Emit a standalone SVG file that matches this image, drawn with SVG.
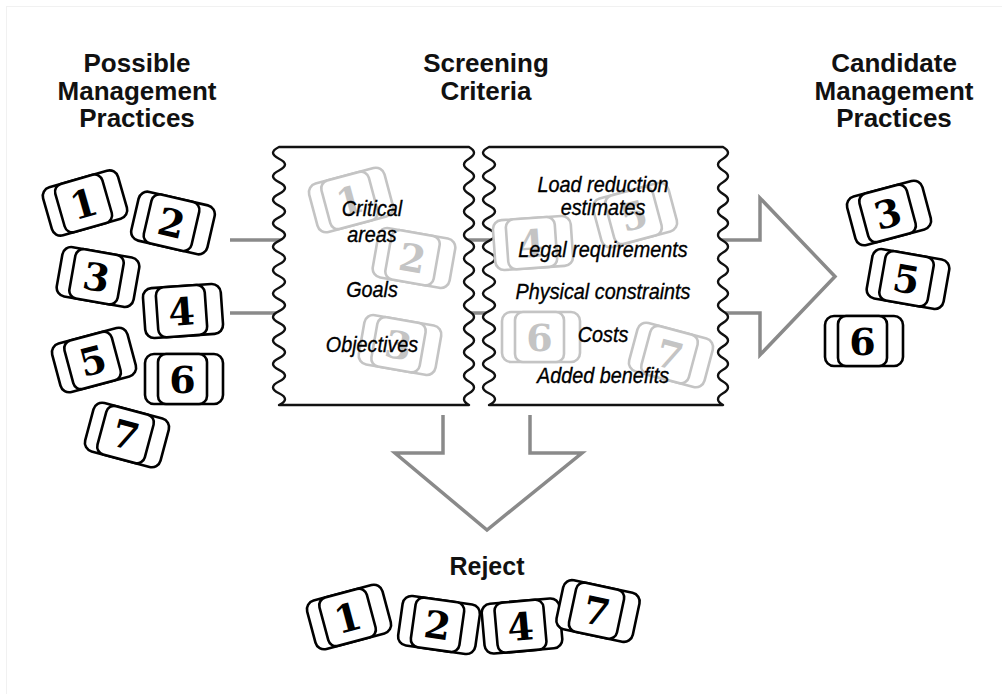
<svg xmlns="http://www.w3.org/2000/svg" width="1002" height="694" viewBox="0 0 1002 694">
<style>
.h{font-family:"Liberation Sans",Arial,sans-serif;font-weight:bold;font-size:26px;text-anchor:middle;fill:#111}
.it{font-family:"Liberation Sans",Arial,sans-serif;font-style:italic;font-size:22.5px;text-anchor:middle;fill:#000;stroke:#000;stroke-width:0.35}
.arr{fill:none;stroke:#8a8a8a;stroke-width:3.5;stroke-linejoin:miter}
.box{fill:#fff;stroke:#111;stroke-width:2.4;stroke-linejoin:round}
.cd use{fill:#fff;stroke:#000;stroke-width:2.6}
.cd text{font-family:"DejaVu Serif","Liberation Serif",serif;font-weight:bold;font-size:38px;text-anchor:middle;fill:#000}
.gh use{fill:#fff;stroke:#c4c4c4;stroke-width:2.6}
.gh text{font-family:"DejaVu Serif","Liberation Serif",serif;font-weight:bold;font-size:38px;text-anchor:middle;fill:#c4c4c4}
</style>
<defs>
<g id="card">
<rect x="-39" y="-25" width="78" height="50" rx="9"/>
<rect x="-26" y="-25" width="49" height="50" rx="8"/>
</g>
</defs>
<rect x="6.5" y="6.5" width="1200" height="1000" fill="none" stroke="#f1f1f1" stroke-width="1"/>

<g id="headings">
<text class="h" x="137" y="72">Possible</text>
<text class="h" x="137" y="100">Management</text>
<text class="h" x="137" y="127">Practices</text>
<text class="h" x="486" y="72">Screening</text>
<text class="h" x="486" y="100">Criteria</text>
<text class="h" x="894" y="72">Candidate</text>
<text class="h" x="894" y="100">Management</text>
<text class="h" x="894" y="127">Practices</text>
<text class="h" x="487" y="575" style="font-size:25px">Reject</text>
</g>

<g id="connectors">
<path class="arr" d="M230 240 H760 V198 L835 276.5 L760 355 V313 H230"/>
<path class="arr" d="M443 415 V453 H395 L487 530 L582 453 H530 V415"/>
</g>

<g id="criteria-box-1">
<path class="box" d="M279 147 H469 q 10 5.864 0 11.727 t 0 11.727 t 0 11.727 t 0 11.727 t 0 11.727 t 0 11.727 t 0 11.727 t 0 11.727 t 0 11.727 t 0 11.727 t 0 11.727 t 0 11.727 t 0 11.727 t 0 11.727 t 0 11.727 t 0 11.727 t 0 11.727 t 0 11.727 t 0 11.727 t 0 11.727 t 0 11.727 t 0 11.727 H279 q 12 -5.864 0 -11.727 t 0 -11.727 t 0 -11.727 t 0 -11.727 t 0 -11.727 t 0 -11.727 t 0 -11.727 t 0 -11.727 t 0 -11.727 t 0 -11.727 t 0 -11.727 t 0 -11.727 t 0 -11.727 t 0 -11.727 t 0 -11.727 t 0 -11.727 t 0 -11.727 t 0 -11.727 t 0 -11.727 t 0 -11.727 t 0 -11.727 t 0 -11.727 Z"/>
<g class="gh" transform="translate(351 200) rotate(-15)"><use href="#card"/><text x="-1.5" y="14">1</text></g>
<g class="gh" transform="translate(414 258) rotate(10)"><use href="#card"/><text x="-1.5" y="14">2</text></g>
<g class="gh" transform="translate(400 345) rotate(10)"><use href="#card"/><text x="-1.5" y="14">3</text></g>
<text class="it" transform="translate(372 216) scale(0.88 1)">Critical</text>
<text class="it" transform="translate(372 242) scale(0.88 1)">areas</text>
<text class="it" transform="translate(372 297) scale(0.88 1)">Goals</text>
<text class="it" transform="translate(372 352) scale(0.88 1)">Objectives</text>
</g>

<g id="criteria-box-2">
<path class="box" d="M489 147 H723 q 10 5.864 0 11.727 t 0 11.727 t 0 11.727 t 0 11.727 t 0 11.727 t 0 11.727 t 0 11.727 t 0 11.727 t 0 11.727 t 0 11.727 t 0 11.727 t 0 11.727 t 0 11.727 t 0 11.727 t 0 11.727 t 0 11.727 t 0 11.727 t 0 11.727 t 0 11.727 t 0 11.727 t 0 11.727 t 0 11.727 H489 q 12 -5.864 0 -11.727 t 0 -11.727 t 0 -11.727 t 0 -11.727 t 0 -11.727 t 0 -11.727 t 0 -11.727 t 0 -11.727 t 0 -11.727 t 0 -11.727 t 0 -11.727 t 0 -11.727 t 0 -11.727 t 0 -11.727 t 0 -11.727 t 0 -11.727 t 0 -11.727 t 0 -11.727 t 0 -11.727 t 0 -11.727 t 0 -11.727 t 0 -11.727 Z"/>
<g class="gh" transform="translate(533 243) rotate(-4)"><use href="#card"/><text x="-1.5" y="14">4</text></g>
<g class="gh" transform="translate(635 215) rotate(-15)"><use href="#card"/><text x="-1.5" y="14">5</text></g>
<g class="gh" transform="translate(541 337)"><use href="#card"/><text x="-1.5" y="14">6</text></g>
<g class="gh" transform="translate(671 355) rotate(15)"><use href="#card"/><text x="-1.5" y="14">7</text></g>
<text class="it" transform="translate(603 192) scale(0.88 1)">Load reduction</text>
<text class="it" transform="translate(603 215) scale(0.88 1)">estimates</text>
<text class="it" transform="translate(603 257) scale(0.88 1)">Legal requirements</text>
<text class="it" transform="translate(603 299) scale(0.88 1)">Physical constraints</text>
<text class="it" transform="translate(603 342) scale(0.88 1)">Costs</text>
<text class="it" transform="translate(603 383) scale(0.88 1)">Added benefits</text>
</g>

<g id="possible-practices">
<g class="cd" transform="translate(85 203) rotate(-16)"><use href="#card"/><text x="-1.5" y="14">1</text></g>
<g class="cd" transform="translate(173 223) rotate(13)"><use href="#card"/><text x="-1.5" y="14">2</text></g>
<g class="cd" transform="translate(98 277) rotate(10)"><use href="#card"/><text x="-1.5" y="14">3</text></g>
<g class="cd" transform="translate(183 311) rotate(-4)"><use href="#card"/><text x="-1.5" y="14">4</text></g>
<g class="cd" transform="translate(94 360) rotate(-15)"><use href="#card"/><text x="-1.5" y="14">5</text></g>
<g class="cd" transform="translate(184 379)"><use href="#card"/><text x="-1.5" y="14">6</text></g>
<g class="cd" transform="translate(127 435) rotate(15)"><use href="#card"/><text x="-1.5" y="14">7</text></g>
</g>

<g id="candidate-practices">
<g class="cd" transform="translate(889 213) rotate(-15)"><use href="#card"/><text x="-1.5" y="14">3</text></g>
<g class="cd" transform="translate(908 279) rotate(10)"><use href="#card"/><text x="-1.5" y="14">5</text></g>
<g class="cd" transform="translate(864 341)"><use href="#card"/><text x="-1.5" y="14">6</text></g>
</g>

<g id="rejected-practices">
<g class="cd" transform="translate(349 617) rotate(-15)"><use href="#card"/><text x="-1.5" y="14">1</text></g>
<g class="cd" transform="translate(439 625) rotate(8)"><use href="#card"/><text x="-1.5" y="14">2</text></g>
<g class="cd" transform="translate(522 626) rotate(-5)"><use href="#card"/><text x="-1.5" y="14">4</text></g>
<g class="cd" transform="translate(598 611) rotate(12)"><use href="#card"/><text x="-1.5" y="14">7</text></g>
</g>
</svg>
